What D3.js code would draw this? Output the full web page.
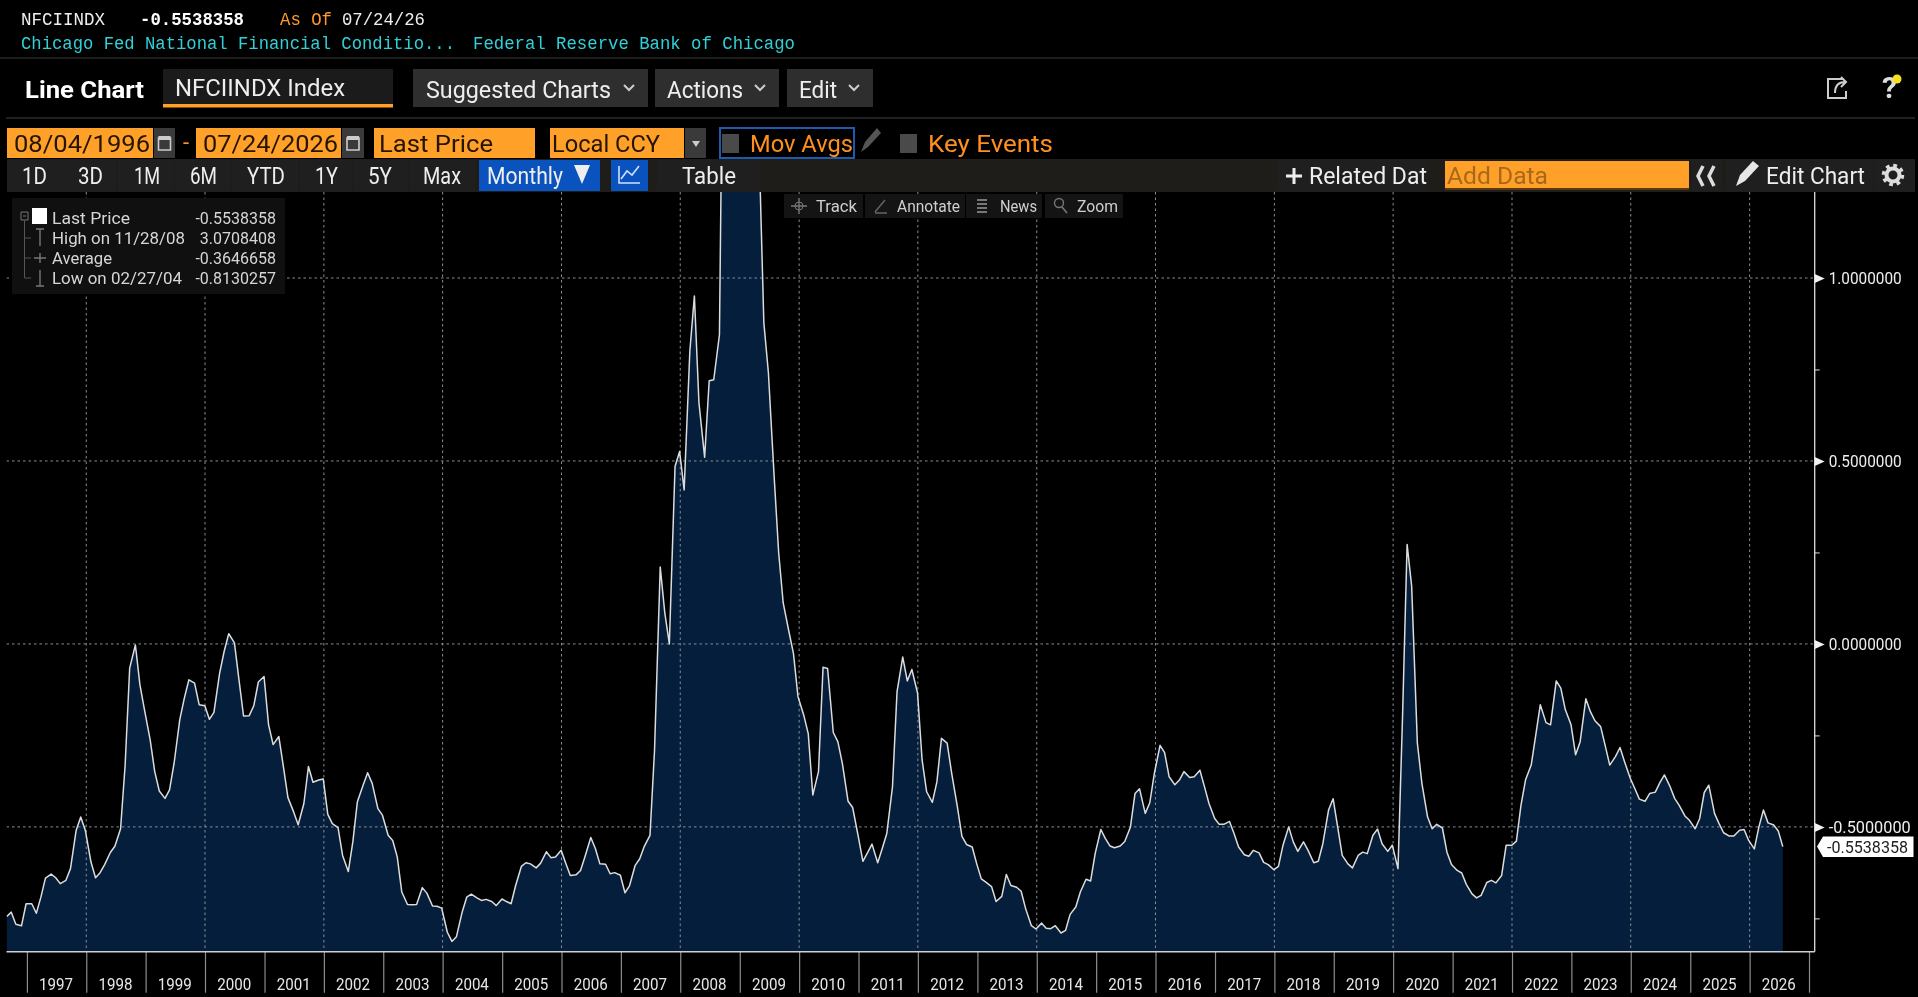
<!DOCTYPE html>
<html><head><meta charset="utf-8">
<style>html,body{margin:0;padding:0;background:#000;overflow:hidden}svg{display:block;filter:blur(0.35px)}</style>
<script src="https://cdn.jsdelivr.net/npm/d3@7/dist/d3.min.js"></script>
</head><body><svg id="c" width="1918" height="997"></svg>
<script>
const ticker = "NFCIINDX", lastValue = -0.5538358, asOf = "07/24/26";
const seriesName = "Chicago Fed National Financial Conditio...", source = "Federal Reserve Bank of Chicago";
const firstMonth = [1996, 7];
const values1996to2001 = [-.745,-.733,-.766,-.770,-.710,-.710,-.736,-.692,-.640,-.629,-.639,-.655,-.646,-.614,-.509,-.473,-.509,-.596,-.639,-.625,-.603,-.570,-.553,-.505,-.331,-.066,-.003,-.112,-.180,-.262,-.349,-.402,-.422,-.399,-.326,-.207,-.148,-.098,-.107,-.166,-.169,-.206,-.187,-.080,-.020,.028,.003,-.098,-.197,-.196,-.169,-.104,-.089,-.221,-.275,-.253,-.335,-.420,-.459,-.494];
const values2001to2006 = [-.436,-.335,-.378,-.372,-.369,-.466,-.491,-.502,-.578,-.622,-.541,-.431,-.386,-.352,-.381,-.450,-.468,-.523,-.537,-.582,-.678,-.712,-.713,-.712,-.666,-.681,-.716,-.717,-.722,-.788,-.8130257,-.800,-.733,-.692,-.684,-.694,-.701,-.698,-.704,-.715,-.697,-.704,-.710,-.660,-.608,-.598,-.601,-.612,-.599,-.568,-.584,-.582,-.564,-.599,-.633,-.631,-.619,-.580,-.529,-.559,-.601];
const values2006to2011 = [-.602,-.628,-.625,-.632,-.680,-.661,-.605,-.587,-.553,-.523,-.290,.21,.085,.0,.485,.526,.421,.80,.951,.659,.51,.719,.722,.845,2.0,2.8,3.0708408,2.75,2.5,2.2,1.9,1.45,.878,.741,.46,.25,.112,.034,-.026,-.144,-.194,-.245,-.413,-.349,-.064,-.067,-.242,-.267,-.327,-.43,-.447,-.527,-.594,-.571,-.547,-.598,-.559,-.518,-.39,-.13];
const values2011to2016 = [-.036,-.101,-.070,-.134,-.317,-.404,-.433,-.377,-.258,-.271,-.354,-.445,-.526,-.548,-.555,-.601,-.642,-.651,-.663,-.704,-.690,-.630,-.660,-.665,-.676,-.724,-.770,-.779,-.763,-.777,-.778,-.770,-.790,-.783,-.739,-.719,-.678,-.643,-.648,-.573,-.507,-.532,-.552,-.557,-.552,-.540,-.500,-.409,-.396,-.463,-.434,-.354,-.277,-.297,-.363,-.385,-.372,-.349,-.365,-.363];
const values2016to2021 = [-.345,-.390,-.436,-.477,-.493,-.493,-.485,-.518,-.555,-.576,-.580,-.564,-.571,-.597,-.603,-.617,-.608,-.550,-.500,-.541,-.567,-.541,-.564,-.598,-.594,-.546,-.454,-.423,-.500,-.578,-.601,-.612,-.578,-.569,-.573,-.523,-.506,-.546,-.567,-.550,-.614,-.198,.272,.158,-.271,-.381,-.473,-.505,-.493,-.503,-.569,-.603,-.619,-.626,-.657,-.683,-.694,-.687,-.652,-.646,-.653];
const values2021to2026 = [-.633,-.550,-.550,-.539,-.441,-.372,-.331,-.249,-.166,-.215,-.221,-.101,-.121,-.180,-.221,-.303,-.267,-.150,-.185,-.210,-.226,-.278,-.331,-.308,-.283,-.322,-.367,-.395,-.424,-.430,-.409,-.405,-.379,-.358,-.390,-.422,-.441,-.470,-.482,-.505,-.477,-.406,-.386,-.463,-.491,-.516,-.525,-.525,-.509,-.507,-.537,-.560,-.500,-.454,-.489,-.495,-.511,-.5538358];
const yearLabels = d3.range(1997, 2027);
const gridYears = d3.range(1998, 2027, 2);
const majorY = [1, .5, 0, -.5];
const minorY = [.75, .25, -.25, -.75];
const legendLabels = ["Last Price", "High on 11/28/08", "Average", "Low on 02/27/04"];
const legendValues = ["-0.5538358", "3.0708408", "-0.3646658", "-0.8130257"];

const monthly = [].concat(values1996to2001, values2001to2006, values2006to2011, values2011to2016, values2016to2021, values2021to2026);
function lastFriday(y, m) {
  const d = new Date(y, m + 1, 0);
  d.setDate(d.getDate() - ((d.getDay() + 2) % 7));
  return d;
}
const data = monthly.map((v, i) => ({
  date: i === monthly.length - 1 ? new Date(2026, 6, 24) : lastFriday(firstMonth[0], firstMonth[1] + i), v }));

const svg = d3.select("#c");
const OR = "#ffa028", ORT = "#ff9020", DARK = "#241400";
const x = d3.scaleTime().domain([new Date(1997, 0, 1), new Date(2027, 0, 1)]).range([26.9, 1809]);
const y = d3.scaleLinear().domain([-.5, 1]).range([826.9, 278]);
const L = 6.5, R = 1814.7, T = 192, B = 951.7;

svg.append("rect").attr("width", 1918).attr("height", 997).attr("fill", "#000");
svg.append("clipPath").attr("id", "plot").append("rect").attr("x", L).attr("y", T).attr("width", R - L).attr("height", B - T);
const plot = svg.append("g").attr("clip-path", "url(#plot)");
plot.append("path").datum(data).attr("fill", "#041e3b")
  .attr("d", d3.area().x(d => x(d.date)).y0(B).y1(d => y(d.v)));
plot.selectAll("line.gy").data(majorY).join("line").attr("x1", L).attr("x2", R)
  .attr("y1", d => y(d)).attr("y2", d => y(d))
  .attr("stroke", "#8a8f96").attr("stroke-width", 1).attr("stroke-dasharray", "2.5 3");
plot.selectAll("line.gx").data(gridYears).join("line").attr("y1", T).attr("y2", B)
  .attr("x1", d => x(new Date(d, 0, 1))).attr("x2", d => x(new Date(d, 0, 1)))
  .attr("stroke", "#8a8f96").attr("stroke-width", 1).attr("stroke-dasharray", "2.5 3");
plot.append("path").datum(data).attr("fill", "none").attr("stroke", "#dcdcdc").attr("stroke-width", 1.5).attr("stroke-linejoin", "round")
  .attr("d", d3.line().x(d => x(d.date)).y(d => y(d.v)));

// x axis
const xAxis = d3.axisBottom(x).tickValues(d3.range(1997, 2028).map(a => new Date(a, 0, 1))).tickSize(41).tickFormat("");
const gx = svg.append("g").attr("transform", `translate(0,${B})`).call(xAxis);
gx.select(".domain").remove();
gx.selectAll("line").attr("stroke", "#8c8c8c").attr("stroke-width", 1.2);
svg.append("line").attr("x1", L).attr("x2", R).attr("y1", B).attr("y2", B).attr("stroke", "#d0d0d0").attr("stroke-width", 1.6);
svg.selectAll("text.yr").data(yearLabels).join("text").attr("class", "yr")
  .attr("x", d => (x(new Date(d, 0, 1)) + x(new Date(d + 1, 0, 1))) / 2 - 0.5).attr("y", 984).attr("dy", ".36em")
  .attr("text-anchor", "middle").attr("fill", "#e6e6e6").attr("font-family", "Roboto").attr("font-size", 17)
  .attr("textLength", 34).attr("lengthAdjust", "spacingAndGlyphs").text(d => d);

// y axis
svg.append("line").attr("x1", R).attr("x2", R).attr("y1", T).attr("y2", B).attr("stroke", "#e0e0e0").attr("stroke-width", 1.3);
const fmtY = d3.format(".7f");
const gy = svg.append("g").attr("transform", `translate(${R},0)`)
  .call(d3.axisRight(y).tickValues(majorY).tickSize(0).tickPadding(14).tickFormat(d => fmtY(d).replace("\u2212", "-")));
gy.select(".domain").remove();
gy.selectAll("text").attr("fill", "#eee").attr("font-family", "Roboto").attr("font-size", 17).attr("lengthAdjust", "spacingAndGlyphs")
  .attr("textLength", function(d) { return d < 0 ? 82 : 73; });
gy.selectAll("g.tick").append("path").attr("d", "M0,-4.5L10,0L0,4.5Z").attr("fill", "#f0f0f0");
const gm = svg.append("g").attr("transform", `translate(${R},0)`).call(d3.axisRight(y).tickValues(minorY).tickSize(5).tickFormat(""));
gm.select(".domain").remove();
gm.selectAll("line").attr("stroke", "#e0e0e0");
const yl = y(lastValue);
svg.append("path").attr("d", `M1817,${yl}L1823,${yl - 10}H1913.5V${yl + 10.5}H1823Z`).attr("fill", "#fff");

function T_(x1, x2, yc, s, o = {}) {
  const t = svg.append("text").attr("x", x1).attr("y", yc).attr("dy", ".36em")
    .attr("fill", o.c || "#eee").attr("font-family", o.f || "Roboto").attr("font-size", o.s || 24.5)
    .attr("font-weight", o.w || 400).text(s);
  if (x2) t.attr("textLength", x2 - x1).attr("lengthAdjust", "spacingAndGlyphs");
  return t;
}
function R_(x1, y1, x2, y2, c, st) {
  const r = svg.append("rect").attr("x", x1).attr("y", y1).attr("width", x2 - x1).attr("height", y2 - y1).attr("fill", c);
  if (st) r.attr("stroke", st).attr("stroke-width", 2);
  return r;
}
function P_(d, o = {}) {
  return svg.append("path").attr("d", d).attr("fill", o.fill || "none").attr("stroke", o.stroke || "none").attr("stroke-width", o.sw || 1.5);
}
T_(1827, 1908, yl, "-0.5538358", { c: "#222", s: 17 });

// header
const MONO = "'Liberation Mono'";
T_(21, 105, 18, ticker, { f: MONO, s: 19 });
T_(140, 244, 18, String(lastValue), { f: MONO, s: 19, w: 700, c: "#fff" });
T_(280, 332, 18, "As Of", { f: MONO, s: 19, c: "#ff9a2a" });
T_(342, 425, 18, asOf, { f: MONO, s: 19 });
T_(21, 455, 42, seriesName, { f: MONO, s: 19, c: "#2fd0d8" });
T_(473, 795, 42, source, { f: MONO, s: 19, c: "#2fd0d8" });
R_(0, 57.2, 1918, 58.8, "#242424");
R_(6, 117.2, 1915, 118.8, "#2a2a2a");

// title row
T_(25, 144, 89, "Line Chart", { w: 700, c: "#fff", s: 24 });
R_(163, 69, 393, 104, "#1b1b1b"); R_(163, 104, 393, 107.5, OR);
T_(175, 345, 87, "NFCIINDX Index");
function chev(cx, cy, c = "#ccc") { P_(`M${cx - 5},${cy - 3}L${cx},${cy + 2}L${cx + 5},${cy - 3}`, { stroke: c, sw: 2 }); }
R_(413, 69, 648, 107, "#2e2e2e"); T_(426, 611, 89, "Suggested Charts"); chev(629, 88);
R_(655, 69, 779, 107, "#2e2e2e"); T_(667, 743, 89, "Actions"); chev(760, 88);
R_(787, 69, 873, 107, "#2e2e2e"); T_(799, 837, 89, "Edit"); chev(854, 88);
P_("M1843,79H1828V98H1846V91", { stroke: "#ccc", sw: 2 });
P_("M1835,93C1835,85 1839,82 1845,82M1841,77L1846,82L1841,87", { stroke: "#ccc", sw: 2 });
T_(1882, null, 87, "?", { s: 30, c: "#ddd", w: 700 });
svg.append("circle").attr("cx", 1897).attr("cy", 79).attr("r", 4.5).attr("fill", "#f5e11e");

// date row
function cal(x1, x2) {
  R_(x1, 128, x2, 158, "#3a3a3a");
  const cx = (x1 + x2) / 2;
  P_(`M${cx - 6},${138}H${cx + 6}V${150}H${cx - 6}Z`, { stroke: "#ccc", sw: 1.6 });
  R_(cx - 6, 136, cx + 6, 140, "#ccc");
}
R_(7, 128, 153, 158, OR); T_(14, 150, 143, "08/04/1996", { c: DARK }); cal(154, 175);
T_(183, null, 142, "-", { c: ORT, s: 22 });
R_(196, 128, 341, 158, OR); T_(203, 338, 143, "07/24/2026", { c: DARK }); cal(342, 364);
R_(374, 128, 535, 158, OR); T_(379, 493, 143, "Last Price", { c: DARK });
R_(550, 128, 684, 158, OR); T_(552, 660, 143, "Local CCY", { c: DARK });
R_(685, 128, 706, 158, "#3a3a3a"); P_("M692,141H700L696,147Z", { fill: "#ccc" });
R_(720, 128, 854, 158, "#000", "#1c5bb0");
R_(722, 134, 739, 153, "#4a4a4a"); T_(750, 853, 143, "Mov Avgs", { c: ORT });
P_("M861,152L865,142L877,128L881,133L868,147Z", { fill: "#555" });
R_(900, 134, 917, 153, "#4a4a4a"); T_(928, 1053, 143, "Key Events", { c: ORT });

// range row
function btn(x1, x2, s, tx1, tx2, bg = "#1f1f1f") { R_(x1, 160, x2, 191, bg); if (s) T_(tx1, tx2, 175, s); }
R_(7, 159, 1915, 192, "#1e1d1a");
btn(7, 62, "1D", 22, 47); btn(63, 116, "3D", 78, 103); btn(118, 173, "1M", 134, 160); btn(175, 230, "6M", 190, 217);
btn(232, 298, "YTD", 247, 285); btn(300, 352, "1Y", 315, 338); btn(354, 408, "5Y", 368, 392); btn(410, 475, "Max", 423, 461);
R_(479, 160, 600, 191, "#0a52bd"); T_(487, 563, 175, "Monthly"); P_("M574,165H590L582,184Z", { fill: "#eee" });
R_(611, 160, 648, 191, "#0a52bd"); P_("M619,166V183H640M621,179L627,171L632,175L639,166", { stroke: "#cfe0ff", sw: 1.6 });
btn(657, 760, "Table", 682, 736);
btn(1277, 1428, "Related Dat", 1309, 1427); P_("M1294,168V184M1286,176H1302", { stroke: "#eee", sw: 3 });
R_(1445, 161, 1689, 188, OR); R_(1445, 188, 1689, 190, "#5a3a10"); T_(1447, 1548, 175, "Add Data", { c: "#a8681c" });
btn(1692, 1722, "", 0, 0); P_("M1703,166L1698,176L1703,186M1714,166L1709,176L1714,186", { stroke: "#ddd", sw: 3.5 });
btn(1726, 1873, "Edit Chart", 1766, 1865); P_("M1736,186L1740,175L1753,161L1759,166L1745,181Z", { fill: "#e6e6e6" });
btn(1875, 1915, "", 0, 0);
svg.append("circle").attr("cx", 1893).attr("cy", 175).attr("r", 6.5).attr("fill", "none").attr("stroke", "#ddd").attr("stroke-width", 4);
svg.append("circle").attr("cx", 1893).attr("cy", 175).attr("r", 9.5).attr("fill", "none").attr("stroke", "#ddd").attr("stroke-width", 3.5).attr("stroke-dasharray", "3.7 3.76");

// chart tools
function tool(x1, x2, s, tx1, tx2) { R_(x1, 194, x2, 218, "#141414"); T_(tx1, tx2, 206, s, { s: 16.5, c: "#cfcfcf" }); }
tool(784, 863, "Track", 816, 857); tool(865, 965, "Annotate", 897, 960); tool(966, 1042, "News", 1000, 1037); tool(1045, 1123, "Zoom", 1077, 1118);
P_("M799,198V214M791,206H807", { stroke: "#777", sw: 1.4 }); svg.append("circle").attr("cx", 799).attr("cy", 206).attr("r", 4).attr("fill", "none").attr("stroke", "#777");
P_("M875,212L885,200M875,213H887", { stroke: "#666", sw: 1.4 });
P_("M977,200H987M977,204H987M977,208H987M977,212H987", { stroke: "#777", sw: 2 });
svg.append("circle").attr("cx", 1059).attr("cy", 203).attr("r", 4.5).attr("fill", "none").attr("stroke", "#777").attr("stroke-width", 1.4);
P_("M1062,207L1067,213", { stroke: "#777", sw: 1.6 });

// legend
R_(12, 198, 285, 294, "#101010");
legendLabels.forEach((s, i) => {
  const yc = 218 + i * 20;
  const w = [78, 133, 60, 130][i];
  T_(52, 52 + w, yc, s, { s: 16.5, c: "#d6d6d6" });
  T_(276, null, yc, legendValues[i], { s: 16, c: "#d6d6d6" }).attr("text-anchor", "end");
});
R_(32, 208, 47, 224, "#fff");
P_("M21,212H28V220H21ZM23,216H26", { stroke: "#777", sw: 1 });
P_("M24.5,220V278H31M24.5,238H31M24.5,258H31", { stroke: "#555", sw: 1 });
P_("M36,229H44M40,229V246", { stroke: "#777", sw: 1.4 });
P_("M34,258H46M40,253V263", { stroke: "#777", sw: 1.4 });
P_("M36,286H44M40,270V286", { stroke: "#777", sw: 1.4 });
</script></body></html>
